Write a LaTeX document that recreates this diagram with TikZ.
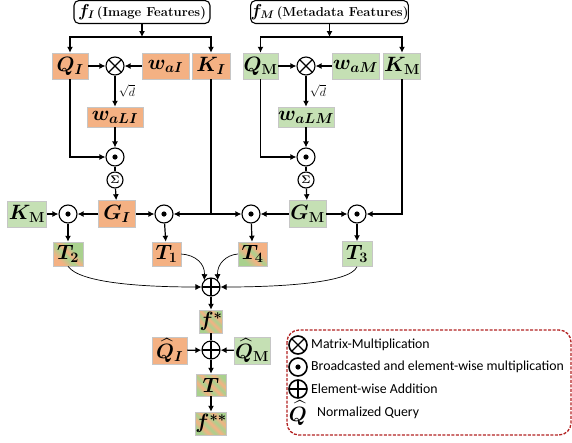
\documentclass[tikz,border=0pt]{standalone}
\usepackage{fontspec}
\usepackage{amsmath}
\usetikzlibrary{arrows.meta}
\newfontfamily\legendfont{Carlito}

\definecolor{cOr}{HTML}{F4B183}
\definecolor{cGr}{HTML}{C5E0B4}
\definecolor{cGm}{HTML}{A9D18E}
\definecolor{cRed}{HTML}{B22222}

\DeclareMathSizes{20}{20}{15}{11}
\DeclareMathSizes{15}{15}{11}{8}
\newcommand\symfont{\fontsize{20}{22}\selectfont\boldmath}
\newcommand\headfont{\fontsize{13}{15}\selectfont\bfseries\boldmath}

% mixed fills (orange / green)
\pgfdeclarehorizontalshading{mixOG}{100bp}{color(0bp)=(cOr); color(30bp)=(cOr); color(45bp)=(cGm); color(52bp)=(cOr); color(62bp)=(cGm); color(100bp)=(cGm)}
\pgfdeclarehorizontalshading{mixGO}{100bp}{color(0bp)=(cGm); color(30bp)=(cGm); color(45bp)=(cOr); color(52bp)=(cGm); color(62bp)=(cOr); color(100bp)=(cOr)}
\pgfdeclarehorizontalshading{mixS}{100bp}{color(0bp)=(cGm); color(25bp)=(cGm); color(34bp)=(cOr); color(42bp)=(cGm); color(50bp)=(cOr); color(58bp)=(cGm); color(66bp)=(cOr); color(75bp)=(cGm); color(100bp)=(cGm)}

\begin{document}
\begin{tikzpicture}[
	x=1pt, y=1pt,
	box/.style={draw=gray!45, line width=0.5pt, inner sep=0pt, font=\symfont},
	oBox/.style={box, fill=cOr},
	gBox/.style={box, fill=cGr},
	mBox/.style={box, shading=#1, shading angle=45},
	head/.style={draw, rounded corners=5pt, line width=1.1pt, inner sep=0pt, font=\headfont},
	op/.style={circle, draw, line width=1.1pt, minimum size=18pt, inner sep=0pt},
	mulop/.style={op, path picture={\draw[line width=1.1pt] (path picture bounding box.north west) -- (path picture bounding box.south east) (path picture bounding box.south west) -- (path picture bounding box.north east);}},
	dotop/.style={op, path picture={\fill (path picture bounding box.center) circle (2.6pt);}},
	addop/.style={op, path picture={\draw[line width=1.1pt] (path picture bounding box.north) -- (path picture bounding box.south) (path picture bounding box.west) -- (path picture bounding box.east);}},
	sumop/.style={op, minimum size=16pt, font=\fontsize{11}{11}\selectfont\boldmath},
	line/.style={line width=1.2pt},
	arrow/.style={line, -{Latex[length=6pt,width=6pt]}},
	thinarrow/.style={line width=0.7pt, -{Latex[length=6pt,width=6pt]}},
	ltext/.style={anchor=west, inner sep=0pt, font=\legendfont\fontsize{13.8}{15}\selectfont}
]
\useasboundingbox (0,0) rectangle (572,-442);

% Image branch
\node[head, minimum width=136pt, minimum height=23pt] (fI) at (142,-12) {{\fontsize{16}{16}\selectfont$f_{I}$}\,(Image Features)};
\node[oBox, minimum width=36pt, minimum height=26pt] (QI) at (70,-66) {$Q_{I}$};
\node[mulop] (mulI) at (115,-66) {};
\node[oBox, minimum width=47pt, minimum height=26pt] (waI) at (165.5,-66) {$w_{aI}$};
\node[oBox, minimum width=38pt, minimum height=26pt] (KI) at (211,-66) {$K_{I}$};
\node[oBox, minimum width=56pt, minimum height=20pt] (waLI) at (115,-117) {$w_{aLI}$};
\node[dotop] (dotI) at (115,-157) {};
\node[sumop] (sumI) at (115,-180) {$\Sigma$};

\draw[arrow] (fI.south) -- ++(0,-13) coordinate (bI);
\draw[arrow] (bI) -| (QI);
\draw[arrow] (bI) -| (KI);
\draw[arrow] (QI) -- (mulI);
\draw[arrow] (waI) -- (mulI);
\draw[arrow] (mulI) -- (waLI) node[midway, right, font=\fontsize{13}{13}\selectfont] {$\sqrt{d}$};
\draw[arrow] (waLI) -- (dotI);
\draw[arrow] (QI) |- (dotI);
\draw[line] (dotI) -- (sumI);

% Metadata branch
\node[head, minimum width=157pt, minimum height=23pt] (fM) at (329.5,-12) {{\fontsize{16}{16}\selectfont$f_{M}$}\,(Metadata Features)};
\node[gBox, minimum width=35pt, minimum height=26pt] (QM) at (260.5,-66) {$Q_{\mathbf{M}}$};
\node[mulop] (mulM) at (306,-66) {};
\node[gBox, minimum width=47pt, minimum height=26pt] (waM) at (355.5,-66) {$w_{aM}$};
\node[gBox, minimum width=37pt, minimum height=26pt] (KM) at (402,-66) {$K_{\mathbf{M}}$};
\node[gBox, minimum width=56pt, minimum height=20pt] (waLM) at (306,-117) {$w_{aLM}$};
\node[dotop] (dotM) at (306,-157) {};
\node[sumop] (sumM) at (306,-180) {$\Sigma$};

\draw[arrow] (fM.south) -- ++(0,-13) coordinate (bM);
\draw[arrow] (bM) -| (QM);
\draw[arrow] (bM) -| (KM);
\draw[arrow] (QM) -- (mulM);
\draw[arrow] (waM) -- (mulM);
\draw[arrow] (mulM) -- (waLM) node[midway, right, font=\fontsize{13}{13}\selectfont] {$\sqrt{d}$};
\draw[arrow] (waLM) -- (dotM);
\draw[arrow] (QM) |- (dotM);
\draw[line] (dotM) -- (sumM);

% Cross products
\node[gBox, minimum width=39pt, minimum height=26pt] (KMl) at (27,-214) {$K_{\mathbf{M}}$};
\node[dotop] (dotA) at (68,-214) {};
\node[oBox, minimum width=37pt, minimum height=27pt] (GI) at (117,-214) {$G_{I}$};
\node[dotop] (dotB) at (164,-214) {};
\node[dotop] (dotC) at (251,-214) {};
\node[gBox, minimum width=37pt, minimum height=27pt] (GM) at (307.5,-214) {$G_{\mathbf{M}}$};
\node[dotop] (dotD) at (357,-214) {};

\node[mBox=mixOG, minimum width=30pt, minimum height=24pt] (T2) at (68,-254) {$T_{2}$};
\node[oBox, minimum width=29pt, minimum height=24pt] (T1) at (166.5,-254) {$T_{1}$};
\node[mBox=mixGO, minimum width=29pt, minimum height=24pt] (T4) at (252.5,-254) {$T_{4}$};
\node[gBox, minimum width=30pt, minimum height=25pt] (T3) at (357,-254) {$T_{3}$};

\draw[arrow] (sumI) -- (GI);
\draw[arrow] (sumM) -- (GM);
\draw[arrow] (KMl) -- (dotA);
\draw[arrow] (GI) -- (dotA);
\draw[arrow] (GI) -- (dotB);
\draw[line] (KI) -- (KI |- GI) coordinate (kI);
\draw[arrow] (kI) -- (dotB);
\draw[arrow] (kI) -- (dotC);
\draw[arrow] (GM) -- (dotC);
\draw[arrow] (GM) -- (dotD);
\draw[arrow] (KM) |- (dotD);
\draw[arrow] (dotA) -- (T2);
\draw[arrow] (dotB) -- (T1);
\draw[arrow] (dotC) -- (T4);
\draw[arrow] (dotD) -- (T3);

% Fusion
\node[addop] (addT) at (211,-287) {};
\node[mBox=mixS, minimum width=21pt, minimum height=23pt] (fs) at (211,-321.5) {$f^{*}$};
\node[addop] (addQ) at (211,-350) {};
\node[oBox, minimum width=35pt, minimum height=27pt] (QhI) at (169.5,-350.5) {$\widehat{Q}_{I}$};
\node[gBox, minimum width=36pt, minimum height=27pt] (QhM) at (252,-350.5) {$\widehat{Q}_{\mathbf{M}}$};
\node[mBox=mixS, minimum width=30pt, minimum height=22pt] (T) at (211,-385) {$T$};
\node[mBox=mixS, minimum width=29pt, minimum height=23pt] (fss) at (211,-423.5) {$f^{**}$};

\draw[thinarrow] (T2.south) .. controls (80,-284) and (150,-287) .. (addT.west);
\draw[thinarrow] (T1.east) .. controls (196,-255) and (205,-264) .. (addT.north west);
\draw[thinarrow] (T4.west) .. controls (226,-255) and (217,-264) .. (addT.north east);
\draw[thinarrow] (T3.south) .. controls (350,-284) and (272,-287) .. (addT.east);
\draw[arrow] (addT) -- (fs);
\draw[line] (fs) -- (addQ);
\draw[arrow] (QhI) -- (addQ);
\draw[arrow] (QhM) -- (addQ);
\draw[arrow] (addQ) -- (T);
\draw[arrow] (T) -- (fss);

% Legend
\draw[cRed, line width=1.3pt, dash pattern=on 3pt off 1.5pt, rounded corners=12pt] (287,-330) rectangle (571,-435);
\node[mulop, line width=1.6pt] (lMul) at (298,-345) {};
\node[ltext] (tMul) at (311,-345) {Matrix-Multiplication};
\node[dotop, line width=1.6pt] (lDot) at (298,-367) {};
\node[ltext] (tDot) at (311,-367) {Broadcasted and element-wise multiplication};
\node[addop, line width=1.6pt] (lAdd) at (298,-389) {};
\node[ltext] (tAdd) at (311,-389) {Element-wise Addition};
\node[font=\symfont] (lQ) at (298,-413) {$\widehat{Q}$};
\node[ltext] (tQ) at (317,-413) {Normalized Query};
\end{tikzpicture}
\end{document}
